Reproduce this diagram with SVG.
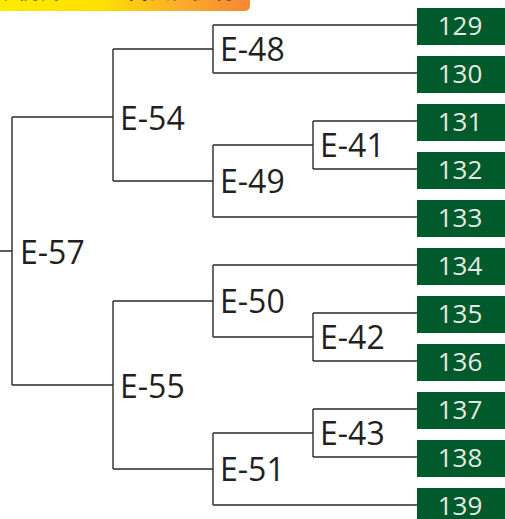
<svg xmlns="http://www.w3.org/2000/svg" width="505" height="519" viewBox="0 0 505 519">
<style>
.ln{fill:none;stroke:#2b2b2b;stroke-width:1.4}
.lbl{font-family:"Open Sans","Noto Sans",sans-serif;font-size:32px;fill:#231f20}
.box{fill:#005a2c}
.num{font-family:"Open Sans","Noto Sans",sans-serif;font-size:26px;fill:#e4ebe5;text-anchor:middle}
.ttl{font-family:"Noto Sans CJK JP",sans-serif;font-size:22px;fill:#222;text-anchor:end}
</style>
<defs>
<linearGradient id="bg" x1="0" y1="0" x2="1" y2="0">
<stop offset="0" stop-color="#ffea00"/>
<stop offset="0.4" stop-color="#ffe000"/>
<stop offset="0.7" stop-color="#fbb02a"/>
<stop offset="1" stop-color="#f68733"/>
</linearGradient>
</defs>
<g id="banner">
<path d="M0,0 H250 V5 Q250,11 244,11 H0 Z" fill="url(#bg)"/>
<text class="ttl" x="236" y="-2.2">系統樹による代表性提符</text>
</g>
<g id="connectors">
<path class="ln" d="M0,251 H12 M12,117 V385 M12,117 H113 M12,385 H113"/>
<path class="ln" d="M113,49 V181 M113,49 H213 M113,181 H213"/>
<path class="ln" d="M213,25 V73 M213,25 H417 M213,73 H417"/>
<path class="ln" d="M213,145 V217 M213,145 H313 M213,217 H417"/>
<path class="ln" d="M313,121 V169 M313,121 H417 M313,169 H417"/>
<path class="ln" d="M113,301 V469 M113,301 H213 M113,469 H213"/>
<path class="ln" d="M213,265 V337 M213,265 H417 M213,337 H313"/>
<path class="ln" d="M313,313 V361 M313,313 H417 M313,361 H417"/>
<path class="ln" d="M213,433 V505 M213,433 H313 M213,505 H417"/>
<path class="ln" d="M313,409 V457 M313,409 H417 M313,457 H417"/>
</g>
<g id="E-57"><text class="lbl" x="20" y="264">E-57</text></g>
<g id="E-54"><text class="lbl" x="120" y="130">E-54</text></g>
<g id="E-55"><text class="lbl" x="120" y="398">E-55</text></g>
<g id="E-48"><text class="lbl" x="220" y="61">E-48</text></g>
<g id="E-49"><text class="lbl" x="220" y="193">E-49</text></g>
<g id="E-41"><text class="lbl" x="320" y="157">E-41</text></g>
<g id="E-50"><text class="lbl" x="220" y="313">E-50</text></g>
<g id="E-42"><text class="lbl" x="320" y="349">E-42</text></g>
<g id="E-51"><text class="lbl" x="220" y="481">E-51</text></g>
<g id="E-43"><text class="lbl" x="320" y="445">E-43</text></g>
<g id="n129"><rect class="box" x="417" y="8" width="88" height="37"/><text class="num" x="460" y="35">129</text></g>
<g id="n130"><rect class="box" x="417" y="56" width="88" height="37"/><text class="num" x="460" y="83">130</text></g>
<g id="n131"><rect class="box" x="417" y="104" width="88" height="37"/><text class="num" x="460" y="131">131</text></g>
<g id="n132"><rect class="box" x="417" y="152" width="88" height="37"/><text class="num" x="460" y="179">132</text></g>
<g id="n133"><rect class="box" x="417" y="200" width="88" height="37"/><text class="num" x="460" y="227">133</text></g>
<g id="n134"><rect class="box" x="417" y="248" width="88" height="37"/><text class="num" x="460" y="275">134</text></g>
<g id="n135"><rect class="box" x="417" y="296" width="88" height="37"/><text class="num" x="460" y="323">135</text></g>
<g id="n136"><rect class="box" x="417" y="344" width="88" height="37"/><text class="num" x="460" y="371">136</text></g>
<g id="n137"><rect class="box" x="417" y="392" width="88" height="37"/><text class="num" x="460" y="419">137</text></g>
<g id="n138"><rect class="box" x="417" y="440" width="88" height="37"/><text class="num" x="460" y="467">138</text></g>
<g id="n139"><rect class="box" x="417" y="488" width="88" height="37"/><text class="num" x="460" y="515">139</text></g>
</svg>
